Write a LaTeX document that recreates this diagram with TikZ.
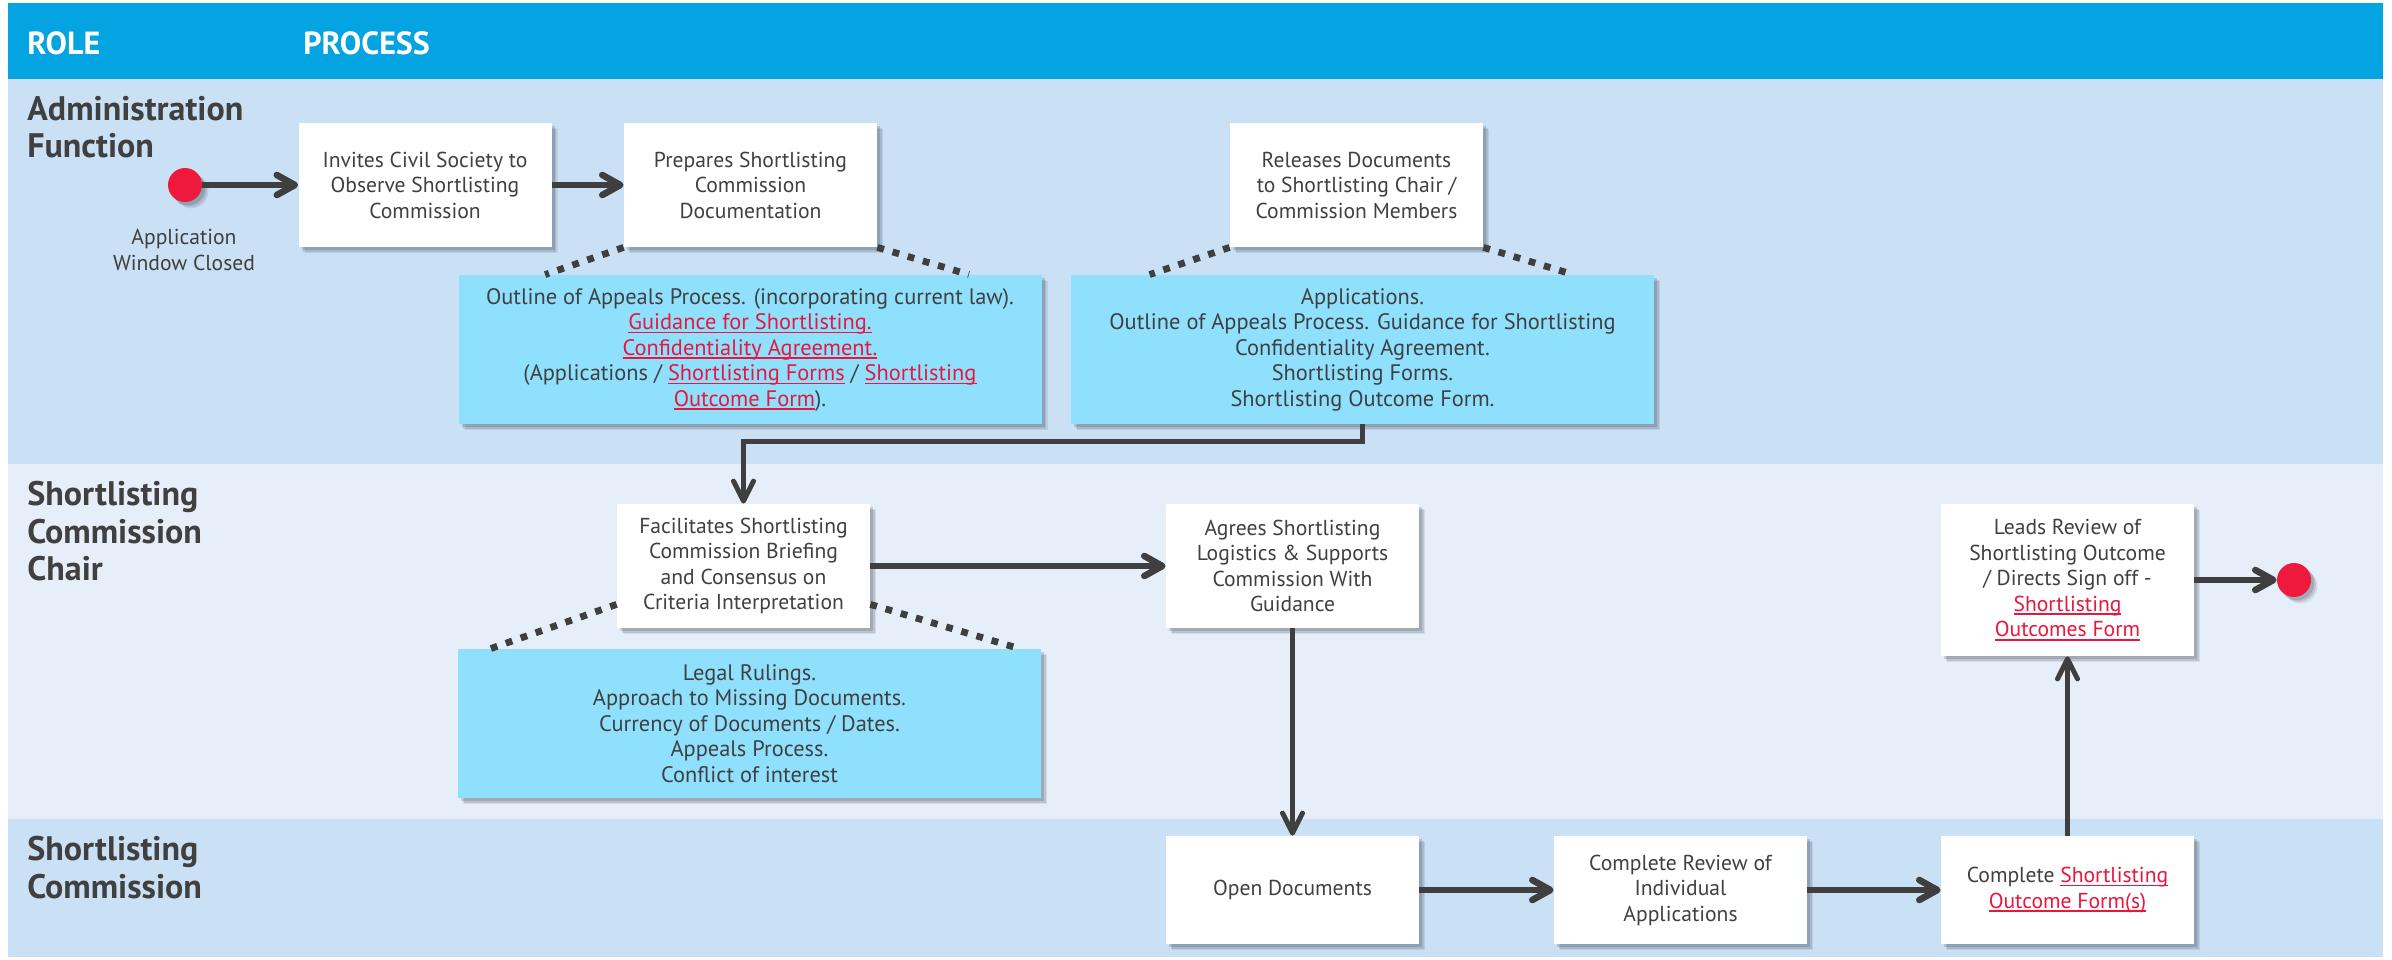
\documentclass[tikz,border=0pt]{standalone}
\usepackage{fontspec}
\setmainfont{PT Sans}
\usetikzlibrary{arrows.meta,calc,shadows}
\definecolor{hdr}{HTML}{04A3E2}
\definecolor{laneA}{HTML}{CAE0F4}
\definecolor{laneB}{HTML}{E6EEF9}
\definecolor{callfill}{HTML}{8FE0FD}
\definecolor{txt}{HTML}{404040}
\definecolor{linkred}{HTML}{E8173E}
\definecolor{dotred}{HTML}{ED1A3D}
\definecolor{arr}{HTML}{3F3F3F}
\definecolor{shcol}{HTML}{303848}
\newcommand\lnk[1]{\textcolor{linkred}{\setbox0\hbox{#1}\rlap{\rule[-1.9pt]{\wd0}{0.8pt}}\box0}}
\tikzset{
  shad/.style={
    drop shadow={shadow xshift=3.2pt,shadow yshift=-3.2pt,fill=shcol,opacity=0.10},
    drop shadow={shadow xshift=2.4pt,shadow yshift=-2.4pt,fill=shcol,opacity=0.14},
    drop shadow={shadow xshift=1.6pt,shadow yshift=-1.6pt,fill=shcol,opacity=0.18}},
  bodyfont/.style={font=\fontsize{10.8}{12.75}\selectfont},
  callfont/.style={font=\fontsize{11.2}{12.75}\selectfont},
  stepbox/.style={rectangle, fill=white, shad, minimum width=126.5pt, minimum height=62pt, inner sep=2pt, align=center, bodyfont, text=txt},
  callout/.style={rectangle, fill=callfill, shad, minimum width=291.5pt, minimum height=74.5pt, inner sep=2pt, align=center, callfont, text=txt},
  termdot/.style={circle, fill=dotred, inner sep=0pt, minimum size=17pt, shad},
  thickarr/.style={draw=arr, line width=3.3pt, -{Straight Barb[length=9pt,width=10pt,line cap=round,line join=round]}},
  thinarr/.style={draw=arr, line width=2.5pt, -{Straight Barb[length=10pt,width=10pt,line cap=round,line join=round]}},
  dotline/.style={draw=arr, line width=3.4pt, dash pattern=on 3.4pt off 4.5pt},
  lanelabel/.style={anchor=north west, inner sep=0pt, align=left, text=txt, font=\bfseries\fontsize{17}{18.7}\selectfont},
  hdrtext/.style={anchor=north west, inner sep=0pt, text=white, font=\bfseries\fontsize{16}{18}\selectfont},
}
\begin{document}
\begin{tikzpicture}[x=0.5pt,y=-0.5pt]
\useasboundingbox (0,0) rectangle (2392,959);
\fill[white] (0,0) rectangle (2392,959);
\fill[hdr] (8,3) rectangle (2383,79);
\fill[laneA] (8,79) rectangle (2383,464);
\fill[laneB] (8,464) rectangle (2383,819);
\fill[laneA] (8,819) rectangle (2383,957);

% header and lane labels
\node[hdrtext] (hrole) at (27,31) {ROLE};
\node[hdrtext] (hproc) at (303,31) {PROCESS};
\node[lanelabel] (l1) at (27,96) {Administration\\Function};
\node[lanelabel] (l2) at (27,481) {Shortlisting\\Commission\\Chair};
\node[lanelabel] (l3) at (27,836) {Shortlisting\\Commission};

% start
\node[termdot] (start) at (185,185) {};
\node[align=center, text=txt, bodyfont, inner sep=0pt] (applbl) at (184,250) {Application\\Window Closed};

% admin lane
\node[stepbox] (b1) at (425,185) {Invites Civil Society to\\Observe Shortlisting\\Commission};
\node[stepbox] (b2) at (750.5,185) {Prepares Shortlisting\\Commission\\Documentation};
\node[stepbox] (b3) at (1356.5,185) {Releases Documents\\to Shortlisting Chair /\\Commission Members};
\node[callout] (c1) at (750,349.5) {Outline of Appeals Process. (incorporating current law).\\
  \lnk{Guidance for Shortlisting.}\\
  \lnk{Confidentiality Agreement.}\\
  (Applications / \lnk{Shortlisting Forms} / \lnk{Shortlisting}\\
  \lnk{Outcome Form}).};
\node[callout] (c2) at (1362.5,349.5) {Applications.\\
  Outline of Appeals Process. Guidance for Shortlisting\\
  Confidentiality Agreement.\\
  Shortlisting Forms.\\
  Shortlisting Outcome Form.};

% chair lane
\node[stepbox] (b4) at (743.5,566) {Facilitates Shortlisting\\Commission Briefing\\and Consensus on\\Criteria Interpretation};
\node[callout] (c3) at (749.5,723.5) {Legal Rulings.\\
  Approach to Missing Documents.\\
  Currency of Documents / Dates.\\
  Appeals Process.\\
  Conflict of interest};
\node[stepbox] (b5) at (1292.5,566) {Agrees Shortlisting\\Logistics \& Supports\\Commission With\\Guidance};
\node[stepbox, minimum height=76pt] (b6) at (2067.5,580) {Leads Review of\\Shortlisting Outcome\\/ Directs Sign off -\\\lnk{Shortlisting}\\\lnk{Outcomes Form}};
\node[termdot] (end) at (2294,580) {};

% commission lane
\node[stepbox, minimum height=54pt] (b7) at (1292.5,890) {Open Documents};
\node[stepbox, minimum height=54pt] (b8) at (1680.5,890) {Complete Review of\\Individual\\Applications};
\node[stepbox, minimum height=54pt] (b9) at (2067.5,890) {Complete \lnk{Shortlisting}\\\lnk{Outcome Form(s)}};

% dotted links
\draw[dotline] (b2.south west) -- ($(c1.north west)+(87,0)$);
\draw[dotline] (b2.south east) -- ($(c1.north east)+(-73,0)$);
\draw[dotline] (b3.south west) -- ($(c2.north west)+(79,0)$);
\draw[dotline] (b3.south east) -- ($(c2.north east)+(-81,0)$);
\draw[dotline] ($(b4.south west)+(0,-24)$) -- ($(c3.north west)+(33,0)$);
\draw[dotline] ($(b4.south east)+(0,-24)$) -- ($(c3.north east)+(-22,0)$);

% connectors
\draw[thickarr] (start) -- (b1);
\draw[thickarr] (b1) -- (b2);
\draw[thinarr] (c2.south) -- ++(0,17) -| (b4.north);
\draw[thickarr] (b4) -- (b5);
\draw[thinarr] (b5) -- (b7);
\draw[thickarr] (b7) -- (b8);
\draw[thickarr] (b8) -- (b9);
\draw[thinarr] (b9) -- (b6);
\draw[thickarr] (b6) -- (end);
\end{tikzpicture}
\end{document}
